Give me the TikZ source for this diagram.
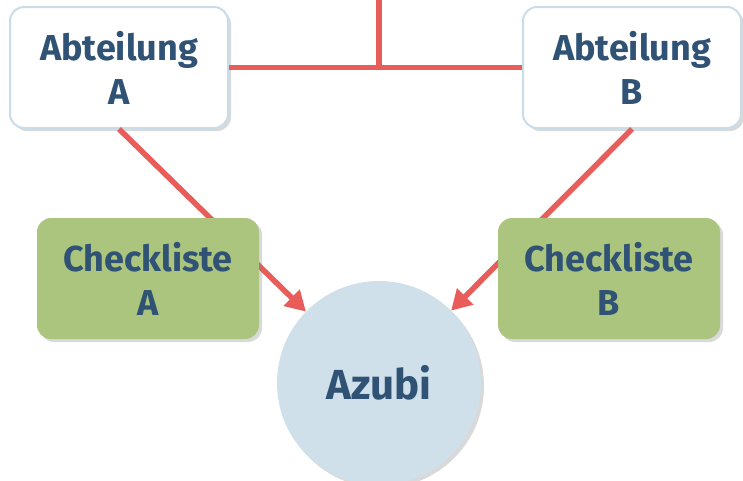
\documentclass[tikz,border=0pt]{standalone}
\usepackage{fontspec}
\setmainfont{Fira Sans}
\usetikzlibrary{shadows,arrows.meta}
\definecolor{txt}{HTML}{2F5275}
\definecolor{linec}{HTML}{E85C5A}
\definecolor{abtbd}{HTML}{C9DDE8}
\definecolor{green}{HTML}{ABC57F}
\definecolor{azubi}{HTML}{CFE0EA}
\begin{document}
\begin{tikzpicture}[x=1pt,y=-1pt,
  font=\fontsize{36}{44}\selectfont\bfseries,
  shad/.style={drop shadow={opacity=0.3,shadow xshift=3pt,shadow yshift=-3pt}},
  abt/.style={draw=abtbd,line width=2pt,fill=white,rounded corners=14pt,minimum width=218pt,minimum height=121pt,text=txt,align=center,shad,inner sep=0pt},
  chk/.style={fill=green,rounded corners=14pt,minimum width=222pt,minimum height=121pt,text=txt,align=center,shad,inner sep=0pt},
  conn/.style={draw=linec,line width=5.5pt},
  arr/.style={conn,-{Triangle[length=20pt,width=22pt]}}]
\useasboundingbox (0,0) rectangle (743,480);
\node[abt] (A) at (119,67.5) {Abteilung\\A};
\node[abt] (B) at (632,67.5) {Abteilung\\B};
\node[circle,fill=azubi,minimum size=204pt,text=txt,shad,inner sep=0pt,font=\fontsize{42}{50}\selectfont\bfseries] (Z) at (379,383) {Azubi};
\coordinate (top) at (379,-5);
\draw[conn] (A.east) -- (B.west);
\draw[conn] (top) -- (top |- A.east);
\draw[arr] (A.south) -- (Z);
\draw[arr] (B.south) -- (Z);
\node[chk] (CA) at (148,278.5) {Checkliste\\A};
\node[chk] (CB) at (609,278.5) {Checkliste\\B};
\end{tikzpicture}
\end{document}
